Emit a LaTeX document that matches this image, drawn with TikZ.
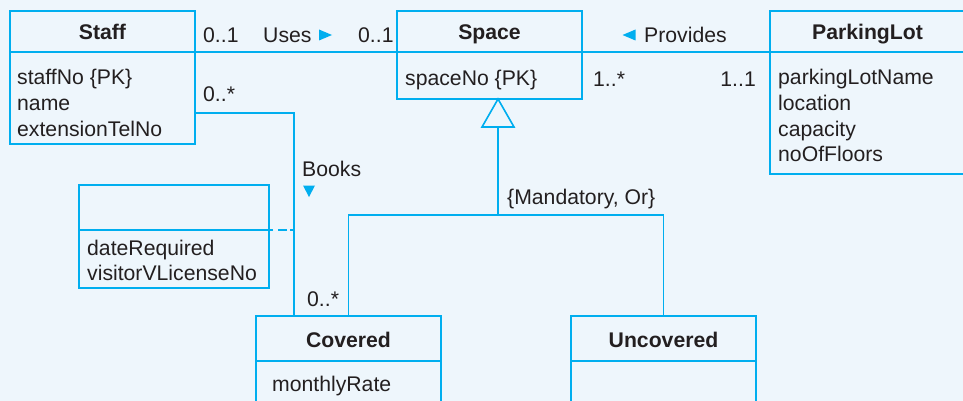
\documentclass[tikz,border=0pt]{standalone}
\usepackage{fontspec}
\setmainfont{Liberation Sans}
\definecolor{bg}{HTML}{EEF6FC}
\definecolor{ucyan}{HTML}{00AEEF}
\definecolor{ink}{HTML}{231F20}
\begin{document}
\begin{tikzpicture}[x=1pt,y=-1pt,
  cls/.style={draw=ucyan, line width=1.6pt, rectangle, anchor=north west, inner sep=0pt, outer sep=0pt},
  conn/.style={draw=ucyan, line width=1.6pt},
  txt/.style={anchor=base west, inner sep=0pt, text=ink, font=\fontsize{21.2}{25}\selectfont},
  txtr/.style={anchor=base east, inner sep=0pt, text=ink, font=\fontsize{21.2}{25}\selectfont},
  ttl/.style={anchor=base, inner sep=0pt, text=ink, font=\fontsize{21.2}{25}\selectfont\bfseries},
  tri/.style={fill=ucyan}]
\fill[bg] (0,0) rectangle (963,401);
\clip (0,0) rectangle (963,401);

% classes
\node[cls, minimum width=185pt, minimum height=133pt] (staff) at (10,11) {};
\node[cls, minimum width=185pt, minimum height=88pt] (space) at (397,11) {};
\node[cls, minimum width=210pt, minimum height=163pt] (plot) at (770,11) {};
\node[cls, minimum width=190pt, minimum height=103pt] (assoc) at (79,185) {};
\node[cls, minimum width=185pt, minimum height=100pt] (covered) at (256,316) {};
\node[cls, minimum width=185pt, minimum height=100pt] (uncovered) at (571,316) {};

% dividers
\draw[conn] (staff.west |- 0,52) -- (staff.east |- 0,52);
\draw[conn] (space.west |- 0,52) -- (space.east |- 0,52);
\draw[conn] (plot.west |- 0,52) -- (plot.east |- 0,52);
\draw[conn] (assoc.west |- 0,230) -- (assoc.east |- 0,230);
\draw[conn] (covered.west |- 0,361) -- (covered.east |- 0,361);
\draw[conn] (uncovered.west |- 0,361) -- (uncovered.east |- 0,361);

% titles
\node[ttl] (tstaff) at (102.5,40) {Staff};
\node[ttl] (tspace) at (489.5,40) {Space};
\node[ttl] (tplot) at (867.5,40) {ParkingLot};
\node[ttl] (tcov) at (348.5,347.5) {Covered};
\node[ttl] (tuncov) at (663.5,347.5) {Uncovered};

% attributes
\node[txt] (a1) at (17,85) {staffNo \{PK\}};
\node[txt] (a2) at (17,110.5) {name};
\node[txt] (a3) at (17,136) {extensionTelNo};
\node[txt] (a4) at (405,86) {spaceNo \{PK\}};
\node[txt] (a5) at (778,85) {parkingLotName};
\node[txt] (a6) at (778,110.5) {location};
\node[txt] (a7) at (778,136) {capacity};
\node[txt] (a8) at (778,161.5) {noOfFloors};
\node[txt] (a9) at (87,255) {dateRequired};
\node[txt] (a10) at (87,280) {visitorVLicenseNo};
\node[txt] (a11) at (272,391) {monthlyRate};

% associations
\draw[conn] (staff.east |- 0,52) -- (space.west |- 0,52);
\draw[conn] (space.east |- 0,52) -- (plot.west |- 0,52);
\draw[conn] (staff.east |- 0,113) -| (covered.north -| 294,0);
\coordinate (bookmid) at (294,230);
\draw[conn, dash pattern=on 4pt off 3pt on 9pt off 5pt] (bookmid) -- (assoc.east |- bookmid);

% generalization
\coordinate (apex) at (space.south -| 498,0);
\coordinate (tbase) at (498,127);
\draw[conn] (tbase) -- (498,215);
\draw[conn] (covered.north) -- (covered.north |- 0,215) -- (uncovered.north |- 0,215) -- (uncovered.north);
\draw[conn, fill=bg] (apex) -- (482,127) -- (514,127) -- cycle;

% labels
\node[txt] (m1) at (203,42.5) {0..1};
\node[txt] (uses) at (263,42.5) {Uses};
\node[txt] (m2) at (358,42.5) {0..1};
\node[txt] (prov) at (644,42.5) {Provides};
\node[txt] (m3) at (593,86.5) {1..*};
\node[txtr] (m4) at (756,86.5) {1..1};
\node[txt] (m5) at (203,101.5) {0..*};
\node[txt] (books) at (302,176.5) {Books};
\node[txt] (m6) at (307,306.5) {0..*};
\node[txt] (gen) at (507,204) {\{Mandatory, Or\}};

% direction triangles
\fill[tri] (319,29.5) -- (332,35) -- (319,40.5) -- cycle;
\fill[tri] (622.5,35) -- (635.5,29.5) -- (635.5,40.5) -- cycle;
\fill[tri] (303,185.5) -- (315,185.5) -- (309,197) -- cycle;
\end{tikzpicture}
\end{document}
